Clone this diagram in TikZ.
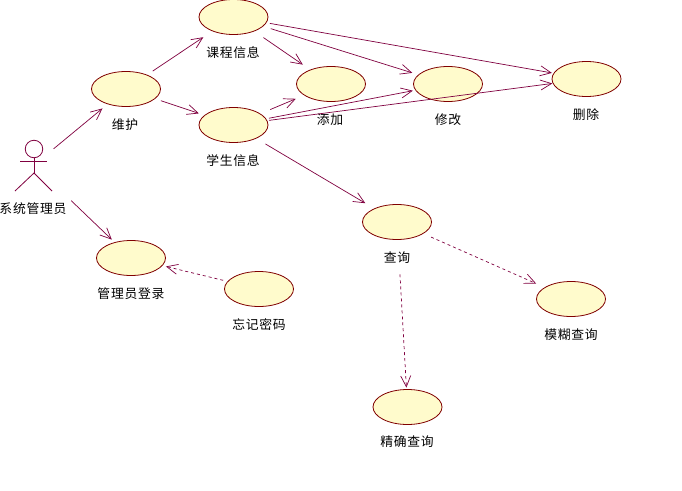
\documentclass[tikz,border=0pt]{standalone}
\usepackage{fontspec}
\setmainfont{Liberation Sans}
\newfontfamily\cjk[LetterSpace=6]{Noto Sans CJK SC}
\usetikzlibrary{shapes.geometric,arrows.meta}
\definecolor{umlline}{HTML}{800040}
\definecolor{umlfill}{HTML}{FFFBCC}
\definecolor{umlborder}{HTML}{800000}
\tikzset{
  usecase/.style={ellipse,draw=umlborder,fill=umlfill,line width=0.8pt,minimum width=69pt,minimum height=35pt,inner sep=0pt},
  lbl/.style={font=\cjk\fontsize{12.8pt}{13pt}\selectfont,text=black,inner sep=0pt},
  assoc/.style={draw=umlline,line width=0.7pt,-{Straight Barb[length=11pt,width=10pt,line width=0.7pt]}},
  dep/.style={assoc,dash pattern=on 3pt off 3pt},
  figure line/.style={draw=umlline,line width=0.8pt}
}
\begin{document}
\begin{tikzpicture}[x=1pt,y=-1pt]
\useasboundingbox (0,0) rectangle (682,490);
\fill[white] (0,0) rectangle (682,490);
% actor
\coordinate (actor) at (34,165);
\node[circle,figure line,minimum size=17.5pt,inner sep=0pt] (head) at (34,149) {};
\coordinate (hip) at (34,173);
\coordinate (armL) at (20,161);
\coordinate (armR) at (47,161);
\coordinate (footL) at (15,191);
\coordinate (footR) at (52,191);
\draw[figure line] (head) -- (hip);
\draw[figure line] (armL) -- (armR);
\draw[figure line] (footL) -- (hip) -- (footR);
\node[lbl] (actorlbl) at (33,209) {系统管理员};
% use cases
\node[usecase] (course) at (233.5,17) {};
\node[usecase] (maintain) at (126,89) {};
\node[usecase] (student) at (233.5,125) {};
\node[usecase] (add) at (331,84) {};
\node[usecase] (edit) at (448,84) {};
\node[usecase] (del) at (586.5,79) {};
\node[usecase] (query) at (397,222) {};
\node[usecase] (fuzzy) at (571,299) {};
\node[usecase] (login) at (131,258) {};
\node[usecase] (forgot) at (259,289) {};
\node[usecase] (exact) at (407.5,407) {};
% labels
\node[lbl] (courselbl) at (233,53) {课程信息};
\node[lbl] (maintainlbl) at (125,125) {维护};
\node[lbl] (studentlbl) at (233,161) {学生信息};
\node[lbl] (addlbl) at (330,120) {添加};
\node[lbl] (editlbl) at (448,120) {修改};
\node[lbl] (dellbl) at (586,115) {删除};
\node[lbl] (querylbl) at (397,258) {查询};
\node[lbl] (fuzzylbl) at (571,335) {模糊查询};
\node[lbl] (loginlbl) at (131,294) {管理员登录};
\node[lbl] (forgotlbl) at (259,325) {忘记密码};
\node[lbl] (exactlbl) at (407,442) {精确查询};
% connectors
\draw[assoc,shorten <=25.5pt,shorten >=6.6pt] (actor) -- (maintain);
\draw[assoc,shorten <=51.6pt,shorten >=3.8pt] (actor) -- (login);
\draw[assoc,shorten <=6.6pt,shorten >=10.8pt] (maintain) -- (course);
\draw[assoc,shorten <=6pt,shorten >=5.7pt] (maintain) -- (student);
\draw[assoc,shorten <=11pt,shorten >=8.9pt] (course) -- (add);
\draw[assoc,shorten <=7.8pt,shorten >=6.2pt] (course) -- (edit);
\draw[assoc,shorten <=3.4pt,shorten >=1.6pt] (course) -- (del);
\draw[assoc,shorten <=10.6pt,shorten >=8.9pt] (student) -- (add);
\draw[assoc,shorten <=2.8pt,shorten >=2.5pt] (student) -- (edit);
\draw[assoc,shorten <=1.7pt,shorten >=0.4pt] (student) -- (del);
\draw[assoc,shorten <=10.6pt,shorten >=10.3pt] (student) -- (query);
\draw[dep,shorten <=8.4pt,shorten >=9.2pt] (query) -- (fuzzy);
\draw[dep,shorten <=34.5pt,shorten >=1.5pt] (query) -- (exact);
\draw[dep,shorten <=4.4pt,shorten >=3.5pt] (forgot) -- (login);
\end{tikzpicture}
\end{document}
